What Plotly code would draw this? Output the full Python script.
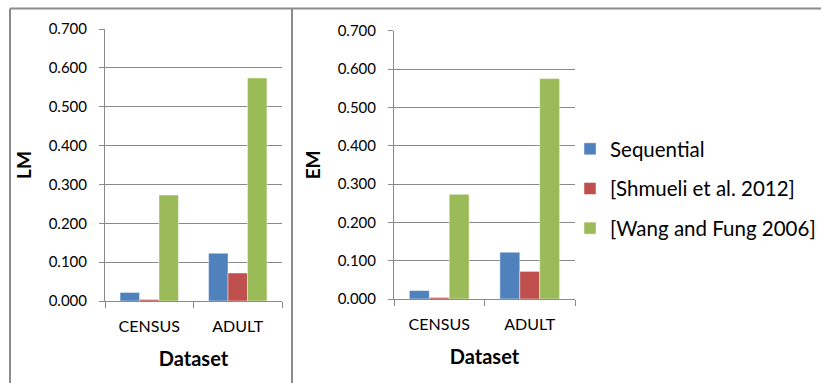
import plotly.graph_objects as go

# Data
datasets = ["CENSUS", "ADULT"]
series_names = ["Sequential", "[Shmueli et al. 2012]", "[Wang and Fung 2006]"]
lm_sequential = [0.022, 0.123]
lm_shmueli = [0.004, 0.072]
lm_wang = [0.273, 0.574]
em_sequential = [0.022, 0.122]
em_shmueli = [0.004, 0.072]
em_wang = [0.273, 0.575]
y_ticks = [0.0, 0.1, 0.2, 0.3, 0.4, 0.5, 0.6, 0.7]

colors = ["#4F81BD", "#C0504D", "#9BBB59"]
W, H = 821, 383
FONT = "Lato"
GRID = "#8a8a8a"


def px_x(v):
    return v / W


def px_y(v):
    return 1 - v / H


fig = go.Figure()

panels = [
    ("x", "y", [lm_sequential, lm_shmueli, lm_wang], True),
    ("x2", "y2", [em_sequential, em_shmueli, em_wang], False),
]
for xa, ya, vals, show in panels:
    for i, (name, v) in enumerate(zip(series_names, vals)):
        fig.add_trace(go.Bar(
            x=datasets, y=v, name=name, xaxis=xa, yaxis=ya,
            marker=dict(color=colors[i], line=dict(color="rgba(255,255,255,0.45)", width=1)),
            legendgroup=name, showlegend=show,
        ))

yaxis_common = dict(
    range=[0, 0.7], tickvals=y_ticks, tickformat=".3f",
    showgrid=True, gridcolor=GRID, gridwidth=1,
    showline=True, linecolor=GRID, linewidth=1,
    ticks="outside", ticklen=5, tickcolor=GRID,
    ticklabelstandoff=9,
    tickfont=dict(family=FONT, size=15, color="#000"),
    zeroline=False, automargin=False,
    title_font=dict(family=FONT, size=19, color="#000", weight="bold"),
    title_standoff=12,
)
xaxis_common = dict(
    type="category", showline=True, linecolor=GRID, linewidth=1,
    ticks="outside", ticklen=6, tickcolor=GRID, tickson="boundaries",
    ticklabelstandoff=11,
    tickfont=dict(family=FONT, size=16, color="#000"),
    title=dict(text="Dataset", font=dict(family=FONT, size=20, color="#000", weight="bold"), standoff=17),
    showgrid=False, zeroline=False, automargin=False,
)

fig.update_layout(
    width=W, height=H,
    margin=dict(l=0, r=0, t=0, b=0, autoexpand=False),
    paper_bgcolor="white", plot_bgcolor="white",
    barmode="group", bargap=0.34, bargroupgap=0,
    font=dict(family=FONT, color="#000"),
    xaxis=dict(domain=[px_x(105), px_x(282)], anchor="y", **xaxis_common),
    yaxis=dict(domain=[px_y(301), px_y(29)], anchor="x", title=dict(text="LM"), **yaxis_common),
    xaxis2=dict(domain=[px_x(394), px_x(575)], anchor="y2", **xaxis_common),
    yaxis2=dict(domain=[px_y(299), px_y(30.7)], anchor="x2", title=dict(text="EM"), **yaxis_common),
    legend=dict(
        x=px_x(570), y=px_y(129), xanchor="left", yanchor="top",
        font=dict(family=FONT, size=20.5, color="#000"),
        tracegroupgap=10, bgcolor="rgba(0,0,0,0)",
    ),
    shapes=[
        dict(type="line", xref="paper", yref="paper", x0=px_x(10), x1=1, y0=px_y(8.5), y1=px_y(8.5),
             line=dict(color="#8c8c8c", width=2)),
        dict(type="line", xref="paper", yref="paper", x0=px_x(10), x1=px_x(10), y0=px_y(8.5), y1=0,
             line=dict(color="#8c8c8c", width=2)),
        dict(type="line", xref="paper", yref="paper", x0=px_x(292), x1=px_x(292), y0=px_y(8.5), y1=0,
             line=dict(color="#8c8c8c", width=2)),
    ],
)

fig.write_html("out.html")
